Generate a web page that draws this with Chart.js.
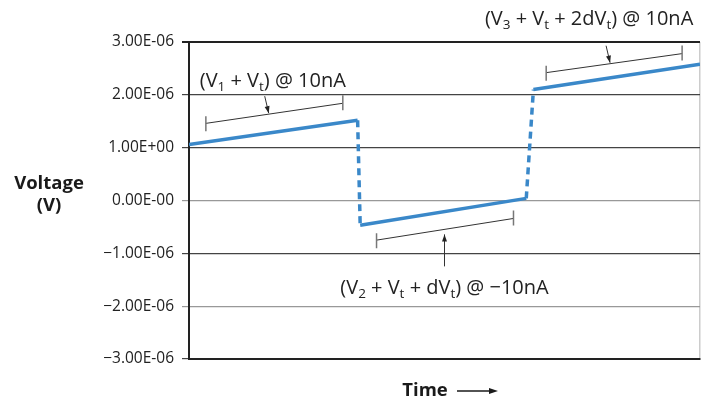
<!DOCTYPE html>
<html>
<head>
<meta charset="utf-8">
<script src="https://cdn.jsdelivr.net/npm/chart.js"></script>
<style>
  html, body { margin: 0; padding: 0; background: #fff; }
  canvas { display: block; }
</style>
</head>
<body>
<canvas id="voltChart" width="701" height="404"></canvas>
<script>
// waveform, time in % of the window, voltage in µV
const timePts = [0, 33.0, 33.5, 66.0, 67.4, 100];
const voltPts = [1.06, 1.52, -0.47, 0.04, 2.10, 2.58];
const dashedSeg = [false, true, false, true, false];

// y tick labels as printed on the original
const tickValues = [3, 2, 1, 0, -1, -2, -3];
const tickLabels = ['3.00E-06', '2.00E-06', '1.00E+00', '0.00E-00', '\u22121.00E-06', '\u22122.00E-06', '\u22123.00E-06'];

// measurement brackets (start / end), in time and voltage
const bracketT0 = [3.3, 36.7, 69.9];
const bracketV0 = [1.46, -0.75, 2.42];
const bracketT1 = [30.1, 63.5, 96.5];
const bracketV1 = [1.84, -0.34, 2.78];

// arrow tip position along each bracket
const arrowT = [15.6, 50.0, 82.4];

// annotation labels: [text, isSubscript] parts
const labelParts = [
  [['(V', 0], ['1', 1], [' + V', 0], ['t', 1], [') @ 10nA', 0]],
  [['(V', 0], ['2', 1], [' + V', 0], ['t', 1], [' + dV', 0], ['t', 1], [') @ \u221210nA', 0]],
  [['(V', 0], ['3', 1], [' + V', 0], ['t', 1], [' + 2dV', 0], ['t', 1], [') @ 10nA', 0]]
];
const labelT = [16.4, 50.0, 78.3];
const labelV = [2.29, -1.63, 3.45];

const FONT = '"Open Sans", sans-serif';
const lineBlue = '#3a88c9';

function drawArrowHead(ctx, x0, y0, x1, y1, len, wid) {
    const a = Math.atan2(y1 - y0, x1 - x0);
    ctx.beginPath();
    ctx.moveTo(x1, y1);
    ctx.lineTo(x1 - len * Math.cos(a) + wid * Math.sin(a), y1 - len * Math.sin(a) - wid * Math.cos(a));
    ctx.lineTo(x1 - len * Math.cos(a) - wid * Math.sin(a), y1 - len * Math.sin(a) + wid * Math.cos(a));
    ctx.closePath();
    ctx.fill();
}

function drawRich(ctx, parts, cx, cy) {
    const big = '20px ' + FONT, small = '13.5px ' + FONT;
    let total = 0;
    parts.forEach(p => {
        ctx.font = p[1] ? small : big;
        total += ctx.measureText(p[0]).width;
    });
    let x = cx - total / 2;
    ctx.textAlign = 'left';
    ctx.textBaseline = 'alphabetic';
    parts.forEach(p => {
        ctx.font = p[1] ? small : big;
        ctx.fillText(p[0], x, cy + 7 + (p[1] ? 4 : 0));
        x += ctx.measureText(p[0]).width;
    });
}

const annotations = {
    id: 'annotations',
    afterDatasetsDraw(chart) {
        const ctx = chart.ctx;
        const xs = chart.scales.x, ys = chart.scales.y;
        ctx.save();
        ctx.strokeStyle = '#333';
        ctx.fillStyle = '#222';
        ctx.lineWidth = 1;

        for (let i = 0; i < bracketT0.length; i++) {
            const x0 = xs.getPixelForValue(bracketT0[i]), y0 = ys.getPixelForValue(bracketV0[i]);
            const x1 = xs.getPixelForValue(bracketT1[i]), y1 = ys.getPixelForValue(bracketV1[i]);
            ctx.beginPath();
            ctx.moveTo(x0, y0); ctx.lineTo(x1, y1);
            ctx.stroke();
            ctx.strokeStyle = '#777';
            ctx.lineWidth = 1.5;
            ctx.beginPath();
            ctx.moveTo(x0, y0 - 7); ctx.lineTo(x0, y0 + 8);
            ctx.moveTo(x1, y1 - 8); ctx.lineTo(x1, y1 + 7);
            ctx.stroke();
            ctx.strokeStyle = '#333';
            ctx.lineWidth = 1;

            // arrow pointing at the bracket
            const tx = xs.getPixelForValue(arrowT[i]);
            const ty = y0 + (y1 - y0) * (tx - x0) / (x1 - x0);
            let ax, ay, bx, by;
            if (i === 1) { ax = tx; ay = ty + 37; bx = tx; by = ty + 5; }
            else { ax = tx - 4; ay = ty - 18; bx = tx; by = ty - 1; }
            ctx.beginPath();
            ctx.moveTo(ax, ay); ctx.lineTo(bx, by);
            ctx.stroke();
            drawArrowHead(ctx, ax, ay, bx, by, 7, 2.5);

            ctx.fillStyle = '#222';
            drawRich(ctx, labelParts[i], xs.getPixelForValue(labelT[i]), ys.getPixelForValue(labelV[i]));
        }

        // axis titles
        ctx.fillStyle = '#1a1a1a';
        ctx.font = 'bold 18.5px ' + FONT;
        ctx.textAlign = 'center';
        ctx.textBaseline = 'middle';
        ctx.fillText('Voltage', 49, 184);
        ctx.fillText('(V)', 49, 206);
        ctx.fillText('Time', 425, 391);
        ctx.strokeStyle = '#1a1a1a';
        ctx.lineWidth = 1.5;
        ctx.beginPath();
        ctx.moveTo(457, 391); ctx.lineTo(494, 391);
        ctx.stroke();
        drawArrowHead(ctx, 457, 391, 498, 391, 9, 3);
        ctx.restore();
    }
};

new Chart(document.getElementById('voltChart').getContext('2d'), {
    type: 'line',
    data: {
        datasets: [{
            data: timePts.map((t, i) => ({ x: t, y: voltPts[i] })),
            borderColor: lineBlue,
            borderWidth: 3.5,
            borderCapStyle: 'butt',
            pointRadius: 0,
            tension: 0,
            segment: {
                borderDash: c => dashedSeg[c.p0DataIndex] ? [7, 5] : undefined
            }
        }]
    },
    options: {
        responsive: false,
        animation: false,
        layout: { padding: { top: 42, bottom: 45, left: 0, right: 1 } },
        plugins: { legend: { display: false }, tooltip: { enabled: false } },
        scales: {
            x: {
                type: 'linear',
                min: 0,
                max: 100,
                ticks: { display: false },
                grid: {
                    drawTicks: false,
                    color: c => c.tick && c.tick.value === 100 ? '#ccc' : 'rgba(0,0,0,0)',
                    lineWidth: 1.5
                },
                border: { display: true, color: '#222', width: 2 },
                afterFit: s => { s.height = 0; }
            },
            y: {
                min: -3,
                max: 3,
                ticks: {
                    stepSize: 1,
                    padding: 8,
                    color: '#222',
                    font: { family: FONT, size: 15.5 },
                    callback: v => tickLabels[tickValues.indexOf(v)]
                },
                grid: {
                    tickLength: 7,
                    color: c => {
                        const v = c.tick ? c.tick.value : null;
                        if (v === 3) return '#222';
                        if (v === 0 || v === -2) return '#999';
                        return '#444';
                    },
                    lineWidth: c => (c.tick && c.tick.value === 3) ? 2 : 1.2
                },
                border: { display: true, color: '#222', width: 2 },
                afterFit: s => { s.width = 189; }
            }
        }
    },
    plugins: [annotations]
});
</script>
</body>
</html>
